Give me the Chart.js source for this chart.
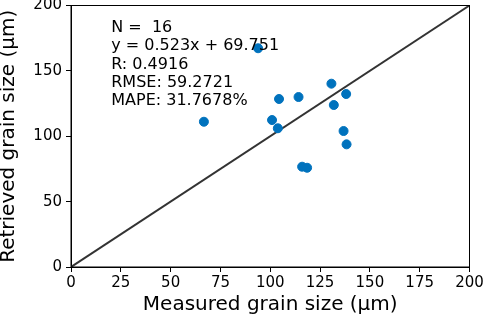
<!DOCTYPE html>
<html>
<head>
<meta charset="utf-8">
<script src="https://cdn.jsdelivr.net/npm/chart.js@4"></script>
<style>
  html, body { margin: 0; padding: 0; background: #fff; }
  #wrap { width: 484px; height: 324px; }
</style>
</head>
<body>
<div id="wrap"><canvas id="chart" width="484" height="324"></canvas></div>
<script>
// measured vs retrieved grain size (um)
const measured  = [93.9, 66.7, 100.9, 103.8, 104.4, 114.2, 116.0, 118.5, 130.7, 131.9, 138.1, 136.8, 138.3];
const retrieved = [167.3, 111.1, 112.4, 106.1, 128.5, 130.0, 76.7, 75.9, 140.2, 123.9, 132.3, 104.0, 93.8];
const oneToOne = [0, 200];
const xTicks = [0, 25, 50, 75, 100, 125, 150, 175, 200];
const yTicks = [0, 50, 100, 150, 200];
const statsLines = ["N =  16", "y = 0.523x + 69.751", "R: 0.4916", "RMSE: 59.2721", "MAPE: 31.7678%"];

const FONT = "'DejaVu Sans', sans-serif";
Chart.defaults.font.family = FONT;
Chart.defaults.color = "#000";

// frame around plot + stats text
const framePlugin = {
  id: "frame",
  afterDraw(chart) {
    const { ctx, chartArea: a, scales } = chart;
    ctx.save();
    ctx.strokeStyle = "#000";
    ctx.lineWidth = 1;
    ctx.strokeRect(a.left, a.top, a.right - a.left, a.bottom - a.top);
    ctx.fillStyle = "#000";
    ctx.font = "16px " + FONT;
    ctx.textBaseline = "alphabetic";
    const x0 = scales.x.getPixelForValue(20.2);
    let y = 32;
    statsLines.forEach(s => { ctx.fillText(s, x0, y); y += 18.3; });
    ctx.restore();
  }
};

new Chart(document.getElementById("chart"), {
  type: "scatter",
  data: {
    datasets: [
      {
        label: "1:1",
        type: "line",
        data: oneToOne.map(v => ({ x: v, y: v })),
        borderColor: "#333333",
        borderWidth: 2,
        pointRadius: 0,
        order: 2
      },
      {
        label: "points",
        data: measured.map((m, i) => ({ x: m, y: retrieved[i] })),
        backgroundColor: "#0072bd",
        borderColor: "#0072bd",
        pointRadius: 4.5,
        order: 1
      }
    ]
  },
  options: {
    responsive: false,
    animation: false,
    layout: { padding: { top: 5.5, right: 14.5, left: 0, bottom: 0 } },
    plugins: { legend: { display: false }, tooltip: { enabled: false } },
    scales: {
      x: {
        type: "linear",
        min: 0, max: 200,
        afterBuildTicks: s => { s.ticks = xTicks.map(v => ({ value: v })); },
        afterFit: s => { s.height = 57; s.paddingLeft = 0; s.paddingRight = 0; },
        grid: { drawOnChartArea: false, drawTicks: true, tickLength: 5, color: "#000" },
        border: { color: "#000" },
        ticks: { font: { size: 15 }, padding: 2, maxRotation: 0, color: "#000" },
        title: { display: true, text: "Measured grain size (μm)", font: { size: 20 }, padding: { top: 0, bottom: 7 }, color: "#000" }
      },
      y: {
        type: "linear",
        min: 0, max: 200,
        afterBuildTicks: s => { s.ticks = yTicks.map(v => ({ value: v })); },
        afterFit: s => { s.width = 71; s.paddingTop = 0; s.paddingBottom = 0; },
        grid: { drawOnChartArea: false, drawTicks: true, tickLength: 5, color: "#000" },
        border: { color: "#000" },
        ticks: { font: { size: 15 }, padding: 4, color: "#000" },
        title: { display: true, text: "Retrieved grain size (μm)", font: { size: 20 }, padding: { top: -3, bottom: 0 }, color: "#000" }
      }
    }
  },
  plugins: [framePlugin]
});
</script>
</body>
</html>
